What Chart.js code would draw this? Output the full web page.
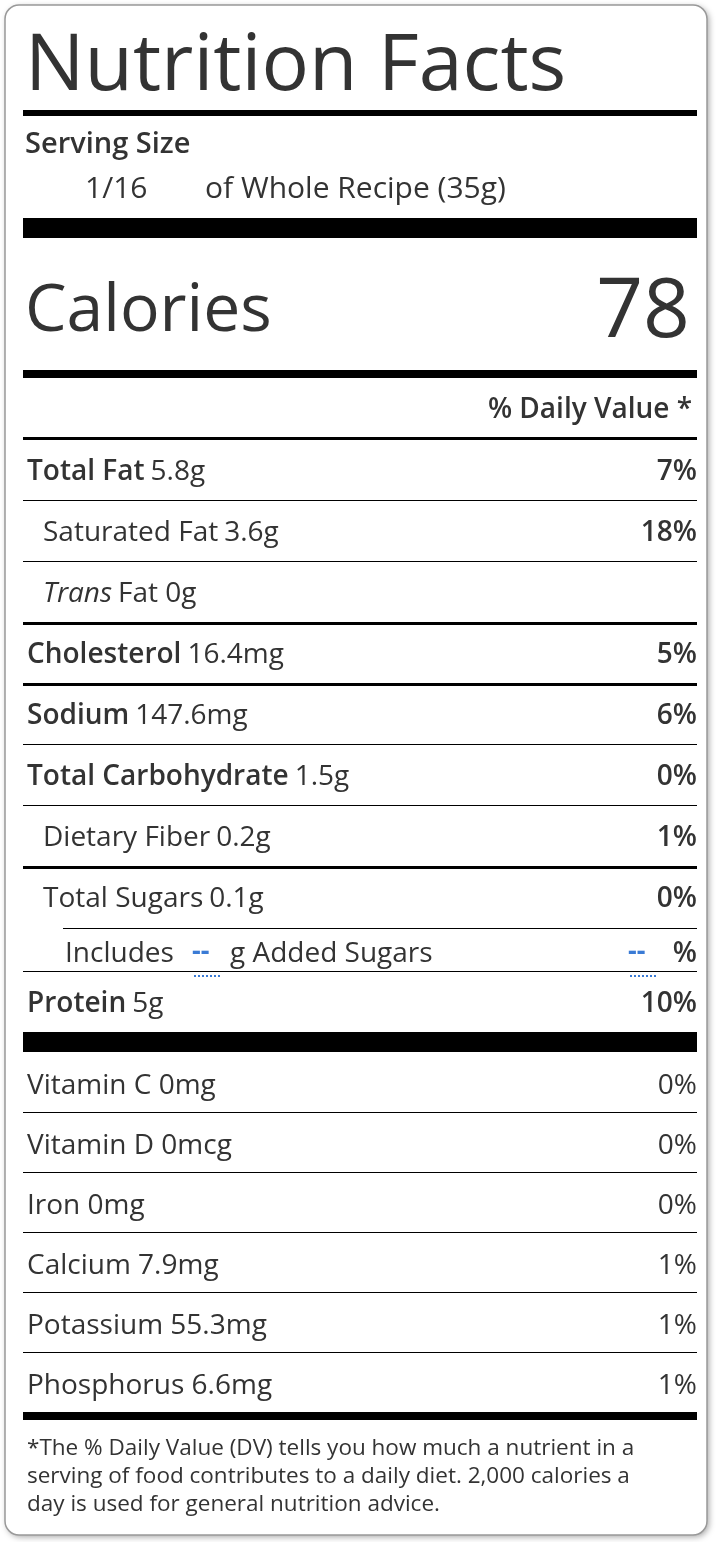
<!DOCTYPE html>
<html lang="en">
<head>
<meta charset="UTF-8">
<title>Nutrition Facts</title>
<script src="https://cdn.jsdelivr.net/npm/chart.js"></script>
<style>
  body { margin: 0; background: #fff; }
  #wrap { width: 716px; height: 1542px; }
</style>
</head>
<body>
<div id="wrap"><canvas id="label" width="716" height="1542"></canvas></div>
<script>
// label rows: name, amount, %DV, bold, indent level, rule below (px)
const nutrientNames = ['Total Fat', 'Saturated Fat', 'Trans', 'Cholesterol', 'Sodium', 'Total Carbohydrate', 'Dietary Fiber', 'Total Sugars'];
const nutrientAmounts = ['5.8g', '3.6g', 'Fat 0g', '16.4mg', '147.6mg', '1.5g', '0.2g', '0.1g'];
const nutrientDV = ['7%', '18%', '', '5%', '6%', '0%', '1%', '0%'];
const nutrientBold = [true, false, false, true, true, true, false, false];
const nutrientIndent = [0, 1, 1, 0, 0, 0, 1, 1];
const nutrientRule = [1, 1, 3, 3, 1, 1, 3, 0];

const vitaminNames = ['Vitamin C', 'Vitamin D', 'Iron', 'Calcium', 'Potassium', 'Phosphorus'];
const vitaminAmounts = ['0mg', '0mcg', '0mg', '7.9mg', '55.3mg', '6.6mg'];
const vitaminDV = ['0%', '0%', '0%', '1%', '1%', '1%'];

const calories = 78;
const footnote = ['*The % Daily Value (DV) tells you how much a nutrient in a',
                  'serving of food contributes to a daily diet. 2,000 calories a',
                  'day is used for general nutrition advice.'];

const FONT = '"Open Sans", "Noto Sans", sans-serif';
const INK = '#333';

const labelPlugin = {
  id: 'nutritionLabel',
  afterDraw(chart) {
    const c = chart.ctx;
    const L = 25, R = 697;
    c.save();
    // frame
    c.shadowColor = 'rgba(0,0,0,0.35)'; c.shadowBlur = 6; c.shadowOffsetX = 2; c.shadowOffsetY = 2;
    c.fillStyle = '#fff'; c.strokeStyle = '#999'; c.lineWidth = 1.5;
    c.beginPath(); c.roundRect(5, 5, 702, 1530, 14); c.fill();
    c.shadowColor = 'transparent'; c.stroke();

    const rule = (y, h, x0 = 23) => { c.fillStyle = '#000'; c.fillRect(x0, y, R - x0, h); };
    const text = (s, x, y, size, weight = 'normal', align = 'left', style = 'normal') => {
      c.font = style + ' ' + weight + ' ' + size + 'px ' + FONT;
      c.fillStyle = INK; c.textAlign = align; c.textBaseline = 'alphabetic';
      c.fillText(s, x, y);
      return c.measureText(s).width;
    };
    const RS = 28;

    text('Nutrition Facts', L, 90, 79);
    rule(110, 6);
    text('Serving Size', L, 153, 29, '600');
    text('1/16', 85, 198, 30);
    text('of Whole Recipe (35g)', 205, 198, 30);
    rule(218, 20);
    text('Calories', L, 331, 66, '500');
    text(String(calories), 690, 337, 82, '500', 'right');
    rule(370, 8);
    text('% Daily Value *', 692, 418, 28, '600', 'right');
    rule(437, 3);

    let y = 440, rowH = 61;
    nutrientNames.forEach((n, i) => {
      const base = y + 40;
      const x = nutrientIndent[i] ? 43 : 27;
      let w;
      if (n === 'Trans') w = text(n, x, base, RS, 'normal', 'left', 'italic');
      else w = text(n, x, base, RS, nutrientBold[i] ? '600' : 'normal');
      text(nutrientAmounts[i], x + w + 6, base, RS);
      if (nutrientDV[i]) text(nutrientDV[i], 697, base, RS, '600', 'right');
      y += rowH;
      if (nutrientRule[i]) rule(y - 1, nutrientRule[i]);
      else rule(y, 1, 63);
    });
    // added sugars line
    const base2 = y + 34;
    text('Includes', 65, base2, RS);
    c.fillStyle = '#3a7bd5'; c.font = 'bold 27px ' + FONT; c.textAlign = 'left';
    c.fillText('--', 192, base2 - 2); c.fillText('--', 628, base2 - 2);
    c.setLineDash([2, 2]); c.strokeStyle = '#3a7bd5'; c.lineWidth = 2;
    c.beginPath(); c.moveTo(194, base2 + 14); c.lineTo(220, base2 + 14);
    c.moveTo(630, base2 + 14); c.lineTo(658, base2 + 14); c.stroke(); c.setLineDash([]);
    text('g Added Sugars', 230, base2, RS);
    text('%', 697, base2, RS, '600', 'right');
    rule(971, 1);
    const wp = text('Protein', 27, 1012, RS, '600');
    text('5g', 27 + wp + 6, 1012, RS);
    text('10%', 697, 1012, RS, '600', 'right');
    rule(1032, 20);

    y = 1052;
    vitaminNames.forEach((n, i) => {
      const base = y + 42;
      text(n + ' ' + vitaminAmounts[i], 27, base, RS);
      text(vitaminDV[i], 697, base, RS, 'normal', 'right');
      y += 60;
      if (i < vitaminNames.length - 1) rule(y, 1);
    });
    rule(1412, 8);
    footnote.forEach((s, i) => text(s, 27, 1455 + i * 28, 22.5));
    c.restore();
  }
};

new Chart(document.getElementById('label'), {
  type: 'bar',
  data: { labels: [], datasets: [] },
  options: {
    responsive: false,
    animation: false,
    plugins: { legend: { display: false }, tooltip: { enabled: false } },
    scales: { x: { display: false }, y: { display: false } }
  },
  plugins: [labelPlugin]
});
</script>
</body>
</html>
